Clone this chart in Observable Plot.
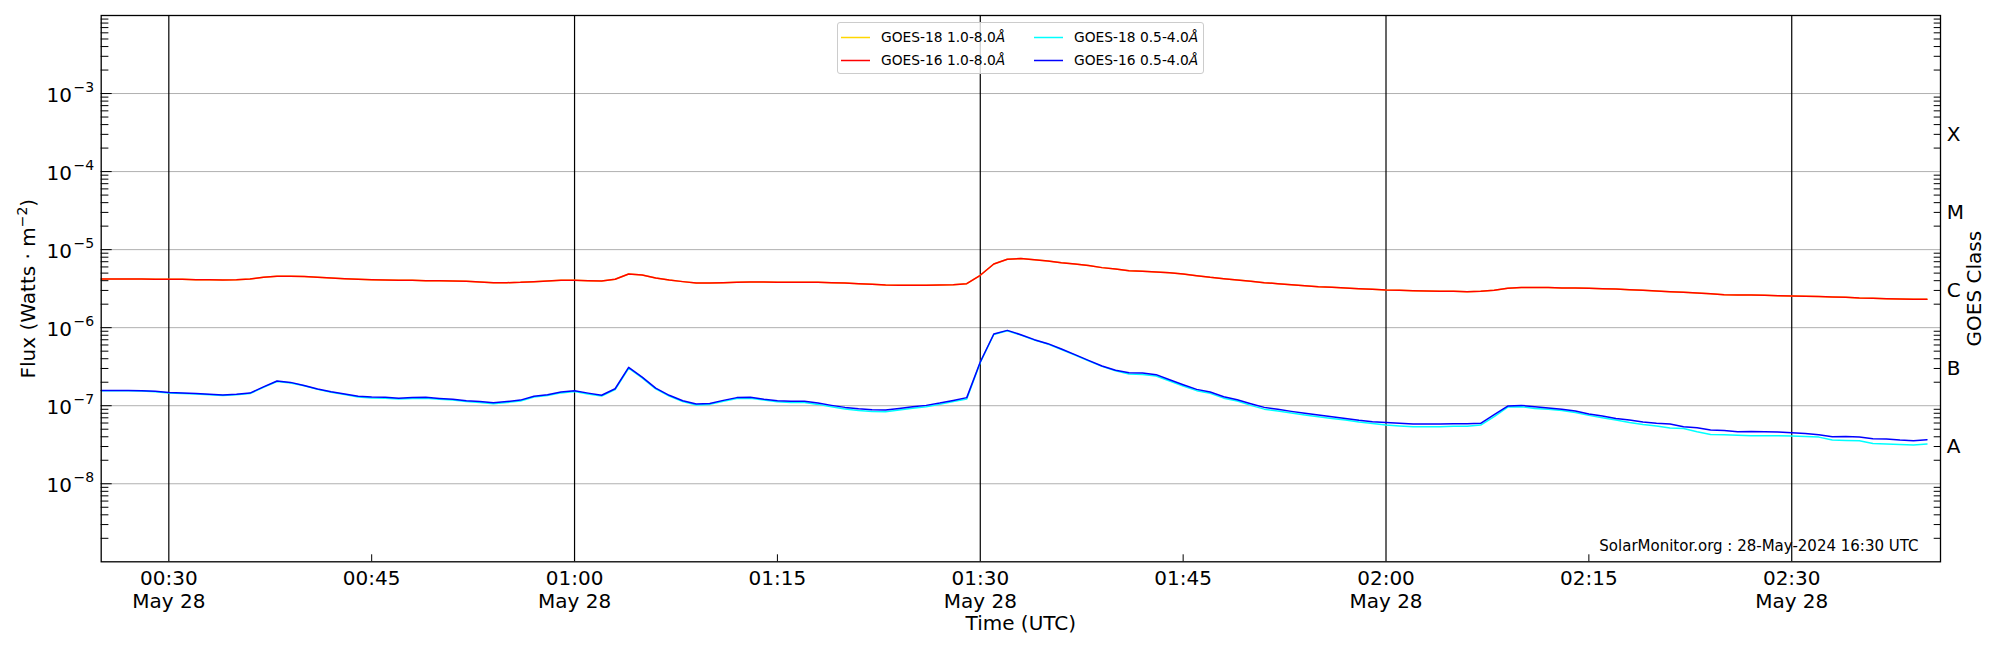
<!DOCTYPE html>
<html>
<head>
<meta charset="utf-8">
<script src="https://cdn.jsdelivr.net/npm/d3@7"></script>
<script src="https://cdn.jsdelivr.net/npm/@observablehq/plot@0.6"></script>
<style>
html, body { margin: 0; padding: 0; background: #fff; overflow: hidden; }
#wrap { position: relative; width: 2000px; height: 650px; font-family: "DejaVu Sans", sans-serif; color: #000; }
.legend { position: absolute; left: 837px; top: 22px; width: 367px; height: 52px; box-sizing: border-box;
  border: 1px solid #cccccc; border-radius: 3px; background: rgba(255,255,255,0.8); font-size: 13.8px; }
.legend svg { position: absolute; left: 0; top: 0; }
.legend .tx { position: absolute; line-height: 1; transform: translateY(-50%); white-space: nowrap; }
</style>
</head>
<body>
<div id="wrap"></div>
<script>
// ---- time stamps (UTC, 28 May 2024), one reading per minute ----
const times = [
"00:25","00:26","00:27","00:28","00:29","00:30","00:31","00:32","00:33","00:34",
"00:35","00:36","00:37","00:38","00:39","00:40","00:41","00:42","00:43","00:44",
"00:45","00:46","00:47","00:48","00:49","00:50","00:51","00:52","00:53","00:54",
"00:55","00:56","00:57","00:58","00:59","01:00","01:01","01:02","01:03","01:04",
"01:05","01:06","01:07","01:08","01:09","01:10","01:11","01:12","01:13","01:14",
"01:15","01:16","01:17","01:18","01:19","01:20","01:21","01:22","01:23","01:24",
"01:25","01:26","01:27","01:28","01:29","01:30","01:31","01:32","01:33","01:34",
"01:35","01:36","01:37","01:38","01:39","01:40","01:41","01:42","01:43","01:44",
"01:45","01:46","01:47","01:48","01:49","01:50","01:51","01:52","01:53","01:54",
"01:55","01:56","01:57","01:58","01:59","02:00","02:01","02:02","02:03","02:04",
"02:05","02:06","02:07","02:08","02:09","02:10","02:11","02:12","02:13","02:14",
"02:15","02:16","02:17","02:18","02:19","02:20","02:21","02:22","02:23","02:24",
"02:25","02:26","02:27","02:28","02:29","02:30","02:31","02:32","02:33","02:34",
"02:35","02:36","02:37","02:38","02:39","02:40"];

// ---- GOES-16 1.0-8.0 Å (W/m²) ----
const goes16Long = [
4.21e-6,4.21e-6,4.21e-6,4.21e-6,4.17e-6,4.17e-6,4.17e-6,4.12e-6,4.12e-6,4.08e-6,
4.12e-6,4.21e-6,4.42e-6,4.55e-6,4.55e-6,4.51e-6,4.42e-6,4.33e-6,4.25e-6,4.17e-6,
4.12e-6,4.08e-6,4.04e-6,4.04e-6,4.00e-6,4.00e-6,3.96e-6,3.93e-6,3.85e-6,3.77e-6,
3.77e-6,3.81e-6,3.89e-6,3.96e-6,4.04e-6,4.04e-6,4.00e-6,3.96e-6,4.17e-6,4.88e-6,
4.73e-6,4.33e-6,4.08e-6,3.89e-6,3.74e-6,3.74e-6,3.77e-6,3.81e-6,3.85e-6,3.85e-6,
3.81e-6,3.81e-6,3.81e-6,3.81e-6,3.77e-6,3.74e-6,3.66e-6,3.59e-6,3.52e-6,3.49e-6,
3.49e-6,3.49e-6,3.52e-6,3.56e-6,3.66e-6,4.69e-6,6.55e-6,7.52e-6,7.67e-6,7.44e-6,
7.16e-6,6.81e-6,6.55e-6,6.24e-6,5.88e-6,5.65e-6,5.38e-6,5.27e-6,5.17e-6,5.07e-6,
4.88e-6,4.64e-6,4.42e-6,4.25e-6,4.08e-6,3.93e-6,3.77e-6,3.66e-6,3.56e-6,3.45e-6,
3.35e-6,3.29e-6,3.22e-6,3.16e-6,3.10e-6,3.04e-6,3.01e-6,2.98e-6,2.95e-6,2.92e-6,
2.92e-6,2.89e-6,2.92e-6,3.01e-6,3.19e-6,3.26e-6,3.26e-6,3.26e-6,3.22e-6,3.22e-6,
3.19e-6,3.16e-6,3.13e-6,3.07e-6,3.01e-6,2.95e-6,2.89e-6,2.84e-6,2.78e-6,2.73e-6,
2.65e-6,2.62e-6,2.62e-6,2.60e-6,2.57e-6,2.55e-6,2.52e-6,2.50e-6,2.47e-6,2.45e-6,
2.40e-6,2.38e-6,2.35e-6,2.33e-6,2.31e-6,2.31e-6];

// ---- GOES-18 1.0-8.0 Å (W/m²) — indistinguishable from GOES-16 in the picture ----
const goes18Long = [
4.21e-6,4.21e-6,4.21e-6,4.21e-6,4.17e-6,4.17e-6,4.17e-6,4.12e-6,4.12e-6,4.08e-6,
4.12e-6,4.21e-6,4.42e-6,4.55e-6,4.55e-6,4.51e-6,4.42e-6,4.33e-6,4.25e-6,4.17e-6,
4.12e-6,4.08e-6,4.04e-6,4.04e-6,4.00e-6,4.00e-6,3.96e-6,3.93e-6,3.85e-6,3.77e-6,
3.77e-6,3.81e-6,3.89e-6,3.96e-6,4.04e-6,4.04e-6,4.00e-6,3.96e-6,4.17e-6,4.88e-6,
4.73e-6,4.33e-6,4.08e-6,3.89e-6,3.74e-6,3.74e-6,3.77e-6,3.81e-6,3.85e-6,3.85e-6,
3.81e-6,3.81e-6,3.81e-6,3.81e-6,3.77e-6,3.74e-6,3.66e-6,3.59e-6,3.52e-6,3.49e-6,
3.49e-6,3.49e-6,3.52e-6,3.56e-6,3.66e-6,4.69e-6,6.55e-6,7.52e-6,7.67e-6,7.44e-6,
7.16e-6,6.81e-6,6.55e-6,6.24e-6,5.88e-6,5.65e-6,5.38e-6,5.27e-6,5.17e-6,5.07e-6,
4.88e-6,4.64e-6,4.42e-6,4.25e-6,4.08e-6,3.93e-6,3.77e-6,3.66e-6,3.56e-6,3.45e-6,
3.35e-6,3.29e-6,3.22e-6,3.16e-6,3.10e-6,3.04e-6,3.01e-6,2.98e-6,2.95e-6,2.92e-6,
2.92e-6,2.89e-6,2.92e-6,3.01e-6,3.19e-6,3.26e-6,3.26e-6,3.26e-6,3.22e-6,3.22e-6,
3.19e-6,3.16e-6,3.13e-6,3.07e-6,3.01e-6,2.95e-6,2.89e-6,2.84e-6,2.78e-6,2.73e-6,
2.65e-6,2.62e-6,2.62e-6,2.60e-6,2.57e-6,2.55e-6,2.52e-6,2.50e-6,2.47e-6,2.45e-6,
2.40e-6,2.38e-6,2.35e-6,2.33e-6,2.31e-6,2.31e-6];

// ---- GOES-16 0.5-4.0 Å (W/m²) ----
const goes16Short = [
1.57e-7,1.57e-7,1.57e-7,1.56e-7,1.53e-7,1.48e-7,1.45e-7,1.43e-7,1.40e-7,1.37e-7,
1.40e-7,1.45e-7,1.74e-7,2.07e-7,1.99e-7,1.82e-7,1.64e-7,1.51e-7,1.41e-7,1.32e-7,
1.29e-7,1.28e-7,1.25e-7,1.27e-7,1.28e-7,1.24e-7,1.21e-7,1.16e-7,1.13e-7,1.09e-7,
1.13e-7,1.18e-7,1.32e-7,1.38e-7,1.50e-7,1.56e-7,1.45e-7,1.36e-7,1.65e-7,3.10e-7,
2.33e-7,1.68e-7,1.36e-7,1.16e-7,1.05e-7,1.07e-7,1.17e-7,1.27e-7,1.28e-7,1.21e-7,
1.16e-7,1.14e-7,1.14e-7,1.08e-7,1.01e-7,9.52e-8,9.15e-8,8.89e-8,8.80e-8,9.24e-8,
9.71e-8,1.01e-7,1.08e-7,1.17e-7,1.27e-7,3.63e-7,8.29e-7,9.24e-7,8.13e-7,7.02e-7,
6.24e-7,5.33e-7,4.51e-7,3.81e-7,3.23e-7,2.84e-7,2.65e-7,2.62e-7,2.50e-7,2.15e-7,
1.86e-7,1.62e-7,1.50e-7,1.30e-7,1.19e-7,1.06e-7,9.52e-8,8.98e-8,8.46e-8,7.98e-8,
7.59e-8,7.23e-8,6.88e-8,6.49e-8,6.24e-8,6.11e-8,5.94e-8,5.82e-8,5.82e-8,5.82e-8,
5.88e-8,5.88e-8,5.94e-8,7.67e-8,9.90e-8,1.01e-7,9.71e-8,9.34e-8,8.98e-8,8.54e-8,
7.82e-8,7.37e-8,6.88e-8,6.55e-8,6.17e-8,5.94e-8,5.82e-8,5.38e-8,5.22e-8,4.88e-8,
4.83e-8,4.64e-8,4.69e-8,4.64e-8,4.60e-8,4.50e-8,4.42e-8,4.25e-8,4.01e-8,4.04e-8,
3.96e-8,3.78e-8,3.74e-8,3.63e-8,3.56e-8,3.66e-8];

// ---- GOES-18 0.5-4.0 Å (W/m²) ----
const goes18Short = [
1.55e-7,1.55e-7,1.55e-7,1.54e-7,1.51e-7,1.46e-7,1.43e-7,1.41e-7,1.38e-7,1.35e-7,
1.38e-7,1.43e-7,1.72e-7,2.04e-7,1.96e-7,1.80e-7,1.62e-7,1.49e-7,1.39e-7,1.29e-7,
1.26e-7,1.25e-7,1.22e-7,1.24e-7,1.25e-7,1.21e-7,1.18e-7,1.13e-7,1.10e-7,1.06e-7,
1.10e-7,1.15e-7,1.29e-7,1.35e-7,1.46e-7,1.52e-7,1.41e-7,1.33e-7,1.61e-7,3.02e-7,
2.27e-7,1.64e-7,1.33e-7,1.13e-7,1.02e-7,1.04e-7,1.14e-7,1.24e-7,1.25e-7,1.18e-7,
1.12e-7,1.10e-7,1.10e-7,1.04e-7,9.70e-8,9.10e-8,8.70e-8,8.45e-8,8.36e-8,8.80e-8,
9.30e-8,9.70e-8,1.04e-7,1.13e-7,1.22e-7,3.58e-7,8.18e-7,9.12e-7,8.03e-7,6.93e-7,
6.16e-7,5.26e-7,4.45e-7,3.76e-7,3.19e-7,2.80e-7,2.55e-7,2.52e-7,2.40e-7,2.07e-7,
1.79e-7,1.56e-7,1.44e-7,1.25e-7,1.15e-7,1.01e-7,9.04e-8,8.53e-8,8.04e-8,7.58e-8,
7.21e-8,6.87e-8,6.54e-8,6.17e-8,5.93e-8,5.66e-8,5.50e-8,5.39e-8,5.39e-8,5.39e-8,
5.44e-8,5.44e-8,5.65e-8,7.23e-8,9.61e-8,9.71e-8,9.24e-8,8.98e-8,8.71e-8,8.21e-8,
7.52e-8,7.02e-8,6.55e-8,6.11e-8,5.76e-8,5.49e-8,5.17e-8,5.12e-8,4.64e-8,4.29e-8,
4.25e-8,4.17e-8,4.12e-8,4.12e-8,4.12e-8,4.08e-8,4.04e-8,3.96e-8,3.63e-8,3.59e-8,
3.56e-8,3.29e-8,3.23e-8,3.19e-8,3.13e-8,3.23e-8];

// ---- series styling / legend ----
const seriesNames  = ["GOES-18 1.0-8.0", "GOES-16 1.0-8.0", "GOES-18 0.5-4.0", "GOES-16 0.5-4.0"];
const seriesColors = ["#FFD700", "#FF0000", "#00FFFF", "#0000FF"];

// ---- axis tick definitions ----
const majorTimes   = ["00:30", "01:00", "01:30", "02:00", "02:30"];
const xTickTimes   = ["00:30", "00:45", "01:00", "01:15", "01:30", "01:45", "02:00", "02:15", "02:30"];
const xTickLabels  = ["00:30\nMay 28", "00:45", "01:00\nMay 28", "01:15", "01:30\nMay 28", "01:45", "02:00\nMay 28", "02:15", "02:30\nMay 28"];
const minorTimes   = ["00:45", "01:15", "01:45", "02:15"];
const yTickValues  = [1e-8, 1e-7, 1e-6, 1e-5, 1e-4, 1e-3];
const yTickExps    = ["\u22128", "\u22127", "\u22126", "\u22125", "\u22124", "\u22123"];
const decades      = [1e-9, 1e-8, 1e-7, 1e-6, 1e-5, 1e-4, 1e-3];
const minorMults   = [2, 3, 4, 5, 6, 7, 8, 9];
const classLabels  = ["A", "B", "C", "M", "X"];
const classFlux    = [3.162e-8, 3.162e-7, 3.162e-6, 3.162e-5, 3.162e-4];

const toDate = t => new Date(`2024-05-28T${t}:00Z`);
const rows = times.map((t, i) => ({
  time: toDate(t),
  g18l: goes18Long[i], g16l: goes16Long[i], g18s: goes18Short[i], g16s: goes16Short[i]
}));
const minorFlux = decades.flatMap(d => minorMults.map(m => d * m));

const chart = Plot.plot({
  width: 2000,
  height: 650,
  marginLeft: 100.7,
  marginRight: 60,
  marginTop: 15,
  marginBottom: 88.7,
  style: { fontFamily: "DejaVu Sans", background: "white", color: "black", overflow: "visible" },
  x: { type: "utc", domain: [toDate("00:25"), toDate("02:41")] },
  y: { type: "log", domain: [1e-9, 1e-2] },
  marks: [
    Plot.ruleY(yTickValues, { stroke: "#b0b0b0", strokeWidth: 1 }),
    Plot.ruleX(majorTimes.map(toDate), { stroke: "black", strokeWidth: 1.2 }),
    Plot.line(rows, { x: "time", y: "g18l", stroke: seriesColors[0], strokeWidth: 1.5 }),
    Plot.line(rows, { x: "time", y: "g16l", stroke: seriesColors[1], strokeWidth: 1.5 }),
    Plot.line(rows, { x: "time", y: "g18s", stroke: seriesColors[2], strokeWidth: 1.5 }),
    Plot.line(rows, { x: "time", y: "g16s", stroke: seriesColors[3], strokeWidth: 1.5 }),
    // inward ticks
    Plot.axisY(yTickValues, { anchor: "left", tickSize: 11, dx: 11, fill: "none", stroke: "black", strokeWidth: 1 }),
    Plot.axisY(minorFlux, { anchor: "left", tickSize: 7.7, dx: 7.7, fill: "none", stroke: "black", strokeWidth: 1 }),
    Plot.axisY(minorFlux, { anchor: "right", tickSize: 7.3, dx: -7.3, fill: "none", stroke: "black", strokeWidth: 1 }),
    Plot.axisX(minorTimes.map(toDate), { anchor: "bottom", tickSize: 7, dy: -7, fill: "none", stroke: "black", strokeWidth: 1 }),
    Plot.frame({ stroke: "black", strokeWidth: 1.3 }),
    // x tick labels
    Plot.text(xTickTimes.map(toDate), { x: d => d, text: (d, i) => xTickLabels[i], frameAnchor: "bottom",
      lineAnchor: "top", lineHeight: 1.15, dy: 6.5, fontSize: 20, fill: "black" }),
    // y tick labels 10^n
    Plot.text(yTickValues, { y: d => d, text: () => "10", frameAnchor: "left", textAnchor: "end",
      lineAnchor: "bottom", dx: -29.2, dy: 8, fontSize: 20, fill: "black" }),
    Plot.text(yTickValues, { y: d => d, text: (d, i) => yTickExps[i], frameAnchor: "left", textAnchor: "start",
      lineAnchor: "bottom", dx: -27.7, dy: -1.3, fontSize: 14, fill: "black" }),
    // GOES class labels
    Plot.text(classFlux, { y: d => d, text: (d, i) => classLabels[i], frameAnchor: "right", textAnchor: "start",
      lineAnchor: "middle", dx: 6.3, dy: 2, fontSize: 20, fill: "black" }),
    // axis titles
    Plot.text(["Time (UTC)"], { text: d => d, frameAnchor: "bottom", lineAnchor: "bottom", dy: 68.3, fontSize: 20, fill: "black" }),
    Plot.text(["Flux (Watts \u00b7 m\u22122)"], { text: d => d, frameAnchor: "left", rotate: -90, textAnchor: "middle",
      lineAnchor: "bottom", dx: -66.7, fontSize: 20, fill: "black" }),
    Plot.text(["GOES Class"], { text: d => d, frameAnchor: "right", rotate: -90, textAnchor: "middle",
      lineAnchor: "bottom", dx: 40.7, fontSize: 20, fill: "black" }),
    Plot.text(["SolarMonitor.org : 28-May-2024 16:30 UTC"], { text: d => d, frameAnchor: "bottom-right", textAnchor: "end",
      lineAnchor: "bottom", dx: -22, dy: -11.3, fontSize: 15, fill: "black" })
  ]
});

// superscript for the unit in the y-axis title
const ns = "http://www.w3.org/2000/svg";
chart.querySelectorAll("text").forEach(t => {
  if (t.textContent === "Flux (Watts \u00b7 m\u22122)") {
    t.textContent = "";
    const a = document.createElementNS(ns, "tspan"); a.textContent = "Flux (Watts \u00b7 m";
    const b = document.createElementNS(ns, "tspan"); b.textContent = "\u22122";
    b.setAttribute("font-size", "14"); b.setAttribute("dy", "-8");
    const c = document.createElementNS(ns, "tspan"); c.textContent = ")"; c.setAttribute("dy", "8");
    t.append(a, b, c);
  }
});

const wrap = document.getElementById("wrap");
wrap.appendChild(chart);

// legend (two columns, column-major order)
const legend = document.createElement("div");
legend.className = "legend";
const colLine = [3, 196], colText = [43, 236], rowY = [14.5, 37.5];
const lsvg = document.createElementNS(ns, "svg");
lsvg.setAttribute("width", "365"); lsvg.setAttribute("height", "50");
legend.appendChild(lsvg);
seriesNames.forEach((name, i) => {
  const col = Math.floor(i / 2), row = i % 2;
  const ln = document.createElementNS(ns, "line");
  ln.setAttribute("x1", colLine[col]); ln.setAttribute("x2", colLine[col] + 29);
  ln.setAttribute("y1", rowY[row]); ln.setAttribute("y2", rowY[row]);
  ln.setAttribute("stroke", seriesColors[i]); ln.setAttribute("stroke-width", "1.5");
  lsvg.appendChild(ln);
  const tx = document.createElement("span");
  tx.className = "tx";
  tx.style.left = colText[col] + "px";
  tx.style.top = rowY[row] + "px";
  tx.innerHTML = name + "<i>\u00c5</i>";
  legend.append(tx);
});
wrap.appendChild(legend);
</script>
</body>
</html>
